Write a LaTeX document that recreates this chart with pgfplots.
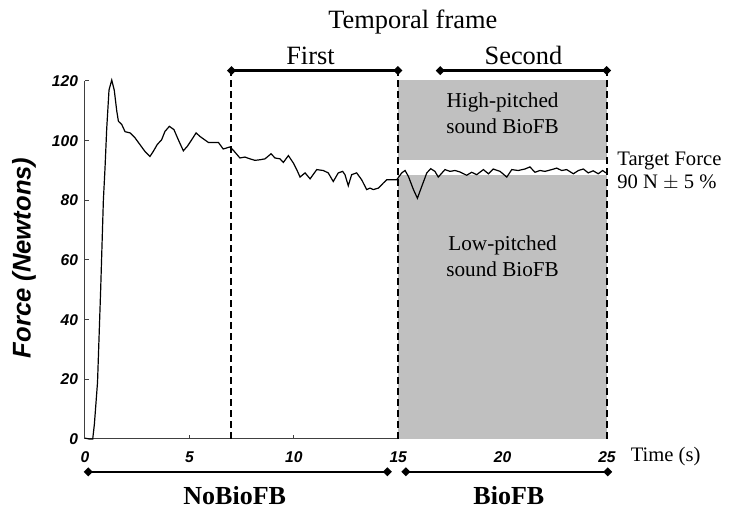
\documentclass[border=0pt]{standalone}
\usepackage{pgfplots}
\pgfplotsset{compat=1.18}
\usetikzlibrary{arrows.meta}
\usepackage{fontspec}
\setmainfont{Liberation Serif}
\newfontfamily\arial{Liberation Sans}
\definecolor{boxgray}{RGB}{192,192,192}

\pgfplotstableread{
t F
0.00 0.3
0.20 0.0
0.37 0.0
0.45 5
0.60 19
0.75 50
0.88 80
0.96 91
1.04 104
1.15 117
1.28 120.3
1.40 117
1.52 110
1.60 106.5
1.76 105.4
1.92 103
2.16 102.6
2.39 101
2.63 98.7
2.87 96.4
3.11 94.7
3.27 96.4
3.46 98.7
3.67 100.3
3.83 103.1
4.04 104.8
4.26 103.7
4.47 100.3
4.71 96.6
4.90 98.1
5.11 100.3
5.32 102.6
5.51 101.4
5.91 99.4
6.39 99.4
6.62 97.2
6.94 97.9
7.10 96.8
7.42 94.2
7.66 94.5
7.90 93.9
8.14 93.4
8.38 93.6
8.62 93.9
8.91 95.6
9.10 94.2
9.34 93.9
9.50 92.7
9.74 95.0
9.98 92.5
10.14 90.3
10.30 87.8
10.54 89.2
10.78 87.2
11.10 90.3
11.41 90.0
11.65 89.2
11.89 86.3
12.13 89.2
12.34 89.7
12.45 88.6
12.61 84.9
12.77 88.6
13.01 89.2
13.25 86.9
13.49 83.6
13.65 84.1
13.81 83.6
14.05 84.1
14.29 85.8
14.45 86.9
14.69 86.9
14.93 86.9
15.17 89.2
15.33 90.0
15.49 88.0
15.73 83.6
15.92 80.7
16.13 84.7
16.37 89.2
16.56 90.6
16.76 89.7
16.92 87.8
17.24 90.3
17.48 89.7
17.72 90.0
17.96 89.5
18.28 88.4
18.52 89.4
18.76 88.6
19.08 90.3
19.32 88.9
19.55 90.5
19.88 89.7
20.20 87.8
20.44 90.3
20.75 90.0
21.07 90.5
21.31 91.2
21.55 89.4
21.79 90.0
22.03 89.7
22.35 90.3
22.59 90.8
22.83 90.0
23.07 90.3
23.39 88.9
23.63 90.0
23.87 90.5
24.10 89.2
24.34 89.9
24.58 88.9
24.79 90.0
24.95 89.2
}\forcedata

\begin{document}
\begin{tikzpicture}
\begin{axis}[
  scale only axis, width=261pt, height=179pt,
  xmin=0, xmax=25, ymin=0, ymax=120,
  axis x line=bottom, axis y line=left,
  axis line style={-, black!75, line width=0.5pt},
  xtick={0,5,...,25}, ytick={0,20,...,120},
  tick align=inside, major tick length=2pt,
  tick style={black!75, line width=0.5pt},
  ticklabel style={font=\arial\bfseries\itshape\fontsize{7.8}{9}\selectfont},
  xticklabel style={yshift=-3pt},
  /pgf/number format/assume math mode=true,
  clip=false,
  xlabel={Time (s)},
  xlabel style={at={(axis description cs:1.032,-0.05)}, anchor=west, font=\fontsize{10.3}{12}\selectfont},
  ylabel={Force (Newtons)},
  ylabel style={at={(axis description cs:-0.117,0.506)}, anchor=center, font=\arial\bfseries\itshape\fontsize{12.8}{15}\selectfont},
]
\addplot[fill=boxgray, draw=none] coordinates {(15,0) (25,0) (25,88.4) (15,88.4)} -- cycle;
\addplot[fill=boxgray, draw=none] coordinates {(15,93.6) (25,93.6) (25,120.5) (15,120.5)} -- cycle;
\addplot[black, line width=0.6pt] table[x=t, y=F] {\forcedata};
\addplot[black, line width=1pt, dash pattern=on 3.5pt off 2pt] coordinates {(7,0) (7,123.5)};
\addplot[black, line width=1pt, dash pattern=on 3.5pt off 2pt] coordinates {(15,0) (15,123.5)};
\addplot[black, line width=1pt, dash pattern=on 3.5pt off 2pt] coordinates {(25,0) (25,123.5)};

\draw[{Diamond[length=4.5pt,width=4.5pt]}-{Diamond[length=4.5pt,width=4.5pt]}, line width=1.3pt] (axis cs:6.8,123.5) -- (axis cs:15.2,123.5);
\draw[{Diamond[length=4.5pt,width=4.5pt]}-{Diamond[length=4.5pt,width=4.5pt]}, line width=1.3pt] (axis cs:16.8,123.5) -- (axis cs:25.2,123.5);
\draw[{Diamond[length=4.5pt,width=4.5pt]}-{Diamond[length=4.5pt,width=4.5pt]}, line width=1.3pt] (axis cs:-0.06,-11) -- (axis cs:14.7,-11);
\draw[{Diamond[length=4.5pt,width=4.5pt]}-{Diamond[length=4.5pt,width=4.5pt]}, line width=1.3pt] (axis cs:15.15,-11) -- (axis cs:25.25,-11);

\node[anchor=base, font=\fontsize{13.2}{16}\selectfont] at (axis cs:15.7,137.6) {Temporal frame};
\node[anchor=base, font=\fontsize{13.2}{16}\selectfont] at (axis cs:10.8,125.5) {First};
\node[anchor=base, font=\fontsize{13.2}{16}\selectfont] at (axis cs:21.0,125.5) {Second};
\node[anchor=base, font=\bfseries\fontsize{13}{16}\selectfont] at (axis cs:7.17,-22.1) {NoBioFB};
\node[anchor=base, font=\bfseries\fontsize{13}{16}\selectfont] at (axis cs:20.3,-22.1) {BioFB};
\node[anchor=base, font=\fontsize{10.6}{13}\selectfont] at (axis cs:20,111.2) {High-pitched};
\node[anchor=base, font=\fontsize{10.6}{13}\selectfont] at (axis cs:20,102.3) {sound BioFB};
\node[anchor=base, font=\fontsize{10.6}{13}\selectfont] at (axis cs:20,63.1) {Low-pitched};
\node[anchor=base, font=\fontsize{10.6}{13}\selectfont] at (axis cs:20,54.4) {sound BioFB};
\node[anchor=base west, inner sep=0pt, font=\fontsize{10.3}{12}\selectfont] at (axis cs:25.48,91.6) {Target Force};
\node[anchor=base west, inner sep=0pt, font=\fontsize{10.3}{12}\selectfont] at (axis cs:25.48,83.9) {90 N $\pm$ 5 \%};
\end{axis}
\pgfresetboundingbox
\path (-42.5pt,-37pt) rectangle (322.5pt,219.5pt);
\end{tikzpicture}
\end{document}
